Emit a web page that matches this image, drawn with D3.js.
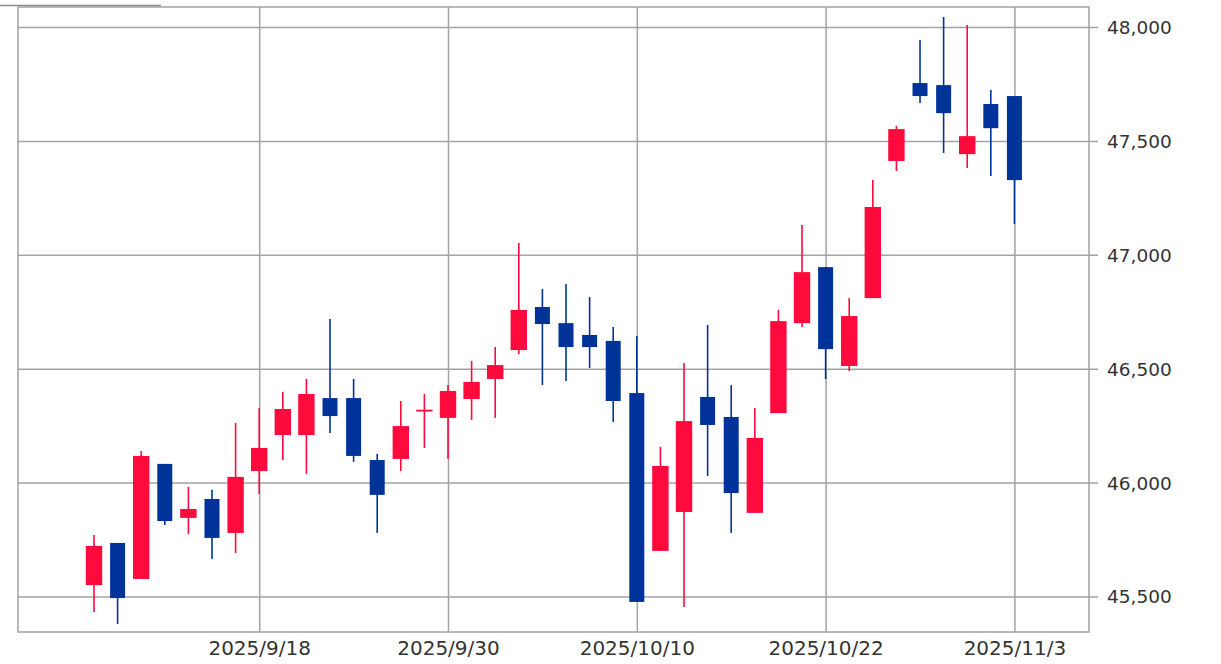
<!DOCTYPE html>
<html>
<head>
<meta charset="utf-8">
<script src="https://cdn.jsdelivr.net/npm/d3@7/dist/d3.min.js"></script>
<style>
  html, body { margin: 0; padding: 0; background: #fff; }
  svg { display: block; }
  text { font-family: "DejaVu Sans", Verdana, sans-serif; fill: #333; }
</style>
</head>
<body>
<svg id="chart" width="1221" height="664"></svg>
<script>
// ---- data ----
const dates = ["2025/9/9","2025/9/10","2025/9/11","2025/9/12","2025/9/15","2025/9/16","2025/9/17","2025/9/18","2025/9/19","2025/9/22",
  "2025/9/23","2025/9/24","2025/9/25","2025/9/26","2025/9/29","2025/9/30","2025/10/1","2025/10/2","2025/10/3","2025/10/6",
  "2025/10/7","2025/10/8","2025/10/9","2025/10/10","2025/10/13","2025/10/14","2025/10/15","2025/10/16","2025/10/17","2025/10/20",
  "2025/10/21","2025/10/22","2025/10/23","2025/10/24","2025/10/27","2025/10/28","2025/10/29","2025/10/30","2025/10/31","2025/11/3"];
const openVals  = [45550,45735,45577,46082,45845,45928,45779,46051,46209,46209,46371,46371,46099,46104,46312,46284,46367,46455,46582,46771,
  46700,46648,46622,46393,45700,45871,46376,46288,45867,46305,46700,46946,46512,46810,47412,47754,47745,47442,47662,47697];
const highVals  = [45770,45735,46139,46082,45981,45968,46262,46327,46398,46455,46718,46455,46126,46358,46389,46428,46534,46595,47052,46850,
  46872,46815,46683,46643,46157,46525,46692,46428,46327,46758,47131,46946,46810,47328,47566,47943,48044,48009,47724,47697];
const lowVals   = [45432,45379,45577,45814,45774,45665,45691,45950,46099,46038,46218,46091,45779,46051,46152,46104,46275,46284,46564,46428,
  46446,46503,46266,45476,45700,45454,46029,45779,45867,46305,46683,46455,46490,46810,47368,47666,47447,47381,47346,47135];
const closeVals = [45722,45493,46117,45831,45884,45757,46025,46152,46323,46389,46292,46117,45946,46248,46320,46402,46442,46516,46758,46696,
  46595,46595,46358,45476,46073,46270,46253,45954,46196,46709,46924,46586,46731,47210,47552,47697,47622,47521,47556,47328];
const yTicks = [45500, 46000, 46500, 47000, 47500, 48000];
const xTickLabels = ["2025/9/18","2025/9/30","2025/10/10","2025/10/22","2025/11/3"];

const candles = dates.map((d, i) => ({ i, date: d, o: openVals[i], h: highVals[i], l: lowVals[i], c: closeVals[i] }));

// ---- layout ----
const L = 18, R = 1089, T = 7, B = 632;
const svg = d3.select("#chart");

const x = d3.scaleLinear().domain([-3.22, 42.16]).range([L, R]);
const y = d3.scaleLinear().domain([45344, 48088]).range([B, T]);

const gridColor = "#a3a3a3";
const upColor = "#ff0a3c";
const downColor = "#00339a";

// top-left artifact line
svg.append("line").attr("x1", 0).attr("x2", 161).attr("y1", 5.5).attr("y2", 5.5)
  .attr("stroke", "#8c8c8c").attr("stroke-width", 1.5);

// horizontal grid + right axis ticks via d3.axisRight
const yAxis = d3.axisRight(y).tickValues(yTicks).tickSize(-(R - L)).tickSizeOuter(0)
  .tickFormat(d3.format(",")).tickPadding(0);
const gy = svg.append("g").attr("transform", `translate(${R},0)`).call(yAxis);
gy.select(".domain").remove();
gy.selectAll(".tick line").attr("stroke", gridColor).attr("stroke-width", 1.5)
  .attr("x1", 9).attr("stroke-dasharray", null);
gy.selectAll(".tick text").attr("x", 18).attr("dy", "0.35em")
  .style("font-size", "18.5px").attr("fill", "#333");

// vertical grid + bottom labels via d3.axisBottom
const tickIdx = xTickLabels.map(lbl => dates.indexOf(lbl));
const xAxis = d3.axisBottom(x).tickValues(tickIdx).tickSize(-(B - T)).tickSizeOuter(0)
  .tickFormat(i => dates[i]).tickPadding(0);
const gx = svg.append("g").attr("transform", `translate(0,${B})`).call(xAxis);
gx.select(".domain").remove();
gx.selectAll(".tick line").attr("stroke", gridColor).attr("stroke-width", 1.5);
gx.selectAll(".tick text").attr("y", 23).attr("dy", 0)
  .style("font-size", "20px").attr("fill", "#333");

// frame
svg.append("rect").attr("x", L).attr("y", T).attr("width", R - L).attr("height", B - T)
  .attr("fill", "none").attr("stroke", gridColor).attr("stroke-width", 1.5);

// candles
const g = svg.append("g");
const isUp = d => d.c >= d.o;
g.selectAll("line.wick").data(candles).join("line")
  .attr("class", "wick")
  .attr("x1", d => x(d.i)).attr("x2", d => x(d.i))
  .attr("y1", d => y(d.h)).attr("y2", d => y(d.l))
  .attr("stroke", d => isUp(d) ? upColor : downColor)
  .attr("stroke-width", 1.6);
g.selectAll("rect.body").data(candles).join("rect")
  .attr("class", "body")
  .attr("x", d => x(d.i) - (isUp(d) ? 8.2 : 7.5))
  .attr("width", d => isUp(d) ? 16.4 : 15)
  .attr("y", d => y(Math.max(d.o, d.c)))
  .attr("height", d => Math.max(1.5, Math.abs(y(d.o) - y(d.c))))
  .attr("fill", d => isUp(d) ? upColor : downColor);
</script>
</body>
</html>
